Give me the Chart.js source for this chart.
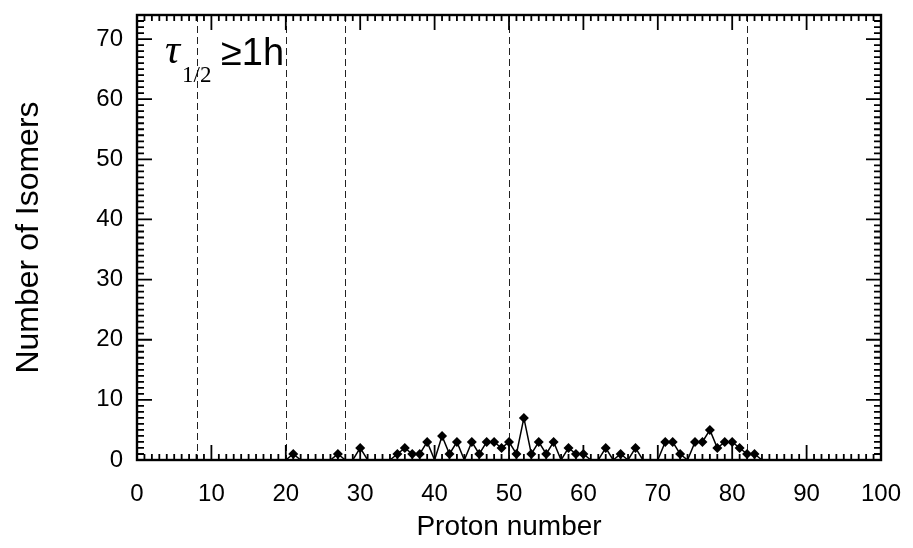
<!DOCTYPE html>
<html>
<head>
<meta charset="utf-8">
<script src="https://cdn.jsdelivr.net/npm/chart.js@4.4.0/dist/chart.umd.min.js"></script>
<style>
  body { margin: 0; background: #fff; }
  #wrap { width: 913px; height: 548px; }
</style>
</head>
<body>
<div id="wrap"><canvas id="isomerChart" width="913" height="548"></canvas></div>
<script>
// isomers with half-life >= 1h, per proton number
var protonNumbers = [20, 21, 22, 23, 24, 25, 26, 27, 28, 29, 30, 31, 32, 33, 34, 35, 36, 37, 38, 39,
  40, 41, 42, 43, 44, 45, 46, 47, 48, 49, 50, 51, 52, 53, 54, 55, 56, 57, 58, 59,
  60, 61, 62, 63, 64, 65, 66, 67, 68, 69, 70, 71, 72, 73, 74, 75, 76, 77, 78, 79,
  80, 81, 82, 83, 84];
var isomerCounts = [0, 1, 0, 0, 0, 0, 0, 1, 0, 0, 2, 0, 0, 0, 0, 1, 2, 1, 1, 3,
  0, 4, 1, 3, 0, 3, 1, 3, 3, 2, 3, 1, 7, 1, 3, 1, 3, 0, 2, 1,
  1, 0, 0, 2, 0, 1, 0, 2, 0, 0, 0, 3, 3, 1, 0, 3, 3, 5, 2, 3,
  3, 2, 1, 1, 0];
var magicNumbers = [8, 20, 28, 50, 82];
var xTickValues = [0, 10, 20, 30, 40, 50, 60, 70, 80, 90, 100];
var yTickValues = [0, 10, 20, 30, 40, 50, 60, 70];

var points = [];
for (var i = 0; i < protonNumbers.length; i++) {
  points.push({ x: protonNumbers[i], y: isomerCounts[i] });
}

// frame, inward ticks, magic-number lines and the label
var decorPlugin = {
  id: 'decor',
  beforeDatasetsDraw: function (chart) {
    var ctx = chart.ctx, a = chart.chartArea, xs = chart.scales.x;
    ctx.save();
    ctx.strokeStyle = '#222';
    ctx.lineWidth = 1;
    ctx.setLineDash([7, 4]);
    magicNumbers.forEach(function (m) {
      var px = Math.round(xs.getPixelForValue(m)) + 0.5;
      ctx.beginPath();
      ctx.moveTo(px, a.top);
      ctx.lineTo(px, a.bottom);
      ctx.stroke();
    });
    ctx.restore();
  },
  afterDraw: function (chart) {
    var ctx = chart.ctx, a = chart.chartArea, xs = chart.scales.x, ys = chart.scales.y;
    ctx.save();
    ctx.strokeStyle = '#000';
    ctx.lineWidth = 1.8;
    var v, px, len;
    for (v = xs.min; v <= xs.max; v++) {
      px = xs.getPixelForValue(v);
      len = (v % 10 === 0) ? 15 : 6;
      ctx.beginPath();
      ctx.moveTo(px, a.bottom); ctx.lineTo(px, a.bottom - len);
      ctx.moveTo(px, a.top); ctx.lineTo(px, a.top + len);
      ctx.stroke();
    }
    for (v = ys.min; v <= ys.max; v++) {
      px = ys.getPixelForValue(v);
      len = (v % 10 === 0) ? 15 : 7;
      ctx.beginPath();
      ctx.moveTo(a.left, px); ctx.lineTo(a.left + len, px);
      ctx.moveTo(a.right, px); ctx.lineTo(a.right - len, px);
      ctx.stroke();
    }
    ctx.lineWidth = 2.4;
    ctx.strokeRect(a.left, a.top, a.right - a.left, a.bottom - a.top);

    ctx.fillStyle = '#000';
    ctx.textBaseline = 'alphabetic';
    ctx.font = 'italic 42px "Liberation Serif", "DejaVu Serif", serif';
    ctx.fillText('τ', 165, 63);
    ctx.font = '23px "Liberation Serif", "DejaVu Serif", serif';
    ctx.fillText('1/2', 182, 82);
    ctx.font = '38px "Liberation Sans", Arial, sans-serif';
    ctx.fillText('≥1h', 221, 65);
    ctx.restore();
  }
};

var ctx = document.getElementById('isomerChart').getContext('2d');
var isomerChart = new Chart(ctx, {
  type: 'line',
  data: {
    datasets: [{
      label: 'Isomers',
      data: points,
      borderColor: '#000',
      backgroundColor: '#000',
      borderWidth: 1.5,
      tension: 0,
      pointStyle: 'rectRot',
      pointRadius: function (c) { return c.raw && c.raw.y > 0 ? 5 : 0; },
      pointBorderWidth: 0,
      pointHoverRadius: 5
    }]
  },
  options: {
    responsive: false,
    animation: false,
    layout: { padding: { top: 15, right: 32, left: 0, bottom: 0 } },
    plugins: {
      legend: { display: false },
      tooltip: { enabled: false }
    },
    scales: {
      x: {
        type: 'linear',
        min: 0,
        max: 100,
        afterBuildTicks: function (s) { s.ticks = xTickValues.map(function (v) { return { value: v }; }); },
        afterFit: function (s) { s.height = 88; s.paddingLeft = 0; s.paddingRight = 0; },
        grid: { display: false, drawTicks: false },
        border: { display: false },
        ticks: {
          color: '#000',
          padding: 20,
          maxRotation: 0,
          font: { family: '"Liberation Sans", Arial, sans-serif', size: 24 }
        },
        title: {
          display: true,
          text: 'Proton number',
          color: '#000',
          padding: { top: 0, bottom: 4 },
          font: { family: '"Liberation Sans", Arial, sans-serif', size: 28 }
        }
      },
      y: {
        min: 0,
        max: 74,
        afterBuildTicks: function (s) { s.ticks = yTickValues.map(function (v) { return { value: v }; }); },
        afterFit: function (s) { s.width = 137; s.paddingTop = 0; s.paddingBottom = 0; },
        grid: { display: false, drawTicks: false },
        border: { display: false },
        ticks: {
          color: '#000',
          padding: 14,
          font: { family: '"Liberation Sans", Arial, sans-serif', size: 24 }
        },
        title: {
          display: true,
          text: 'Number of Isomers',
          color: '#000',
          padding: { top: 10, bottom: 0 },
          font: { family: '"Liberation Sans", Arial, sans-serif', size: 32 }
        }
      }
    }
  },
  plugins: [decorPlugin]
});
</script>
</body>
</html>
